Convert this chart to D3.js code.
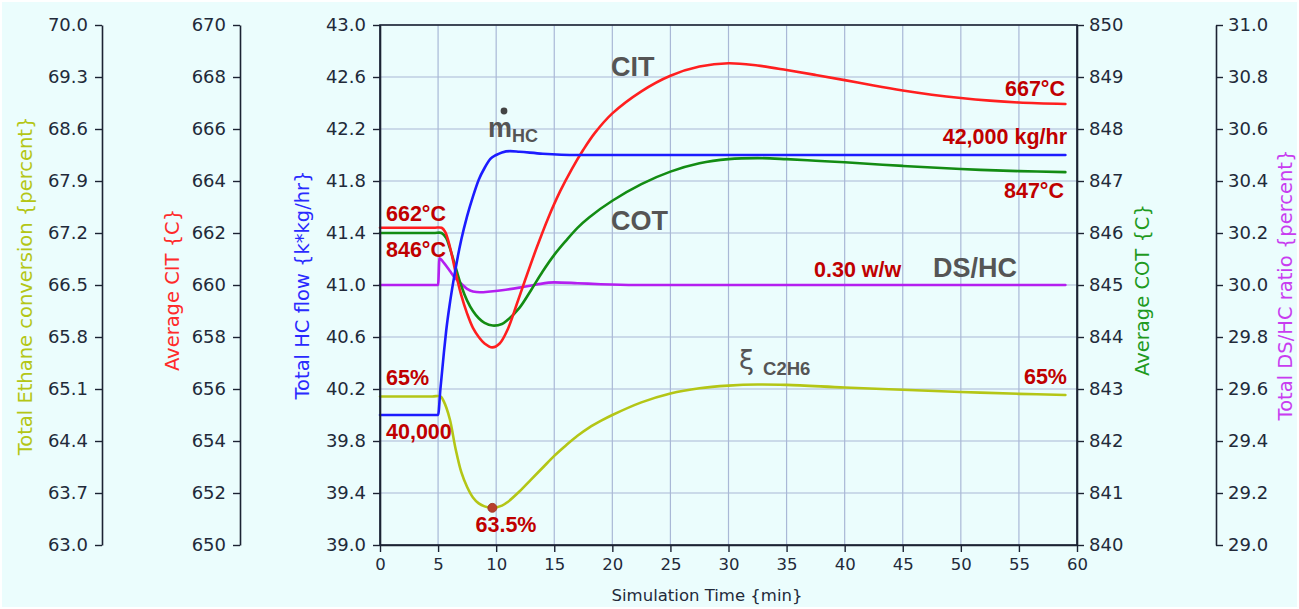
<!DOCTYPE html>
<html>
<head>
<meta charset="utf-8">
<script src="https://cdn.jsdelivr.net/npm/d3@7"></script>
<style>
  html, body { margin: 0; padding: 0; background: #ffffff; }
  svg { display: block; }
  .tick text { font-family: "DejaVu Sans", sans-serif; fill: #222a3a; }
  .tick line, .domain { stroke: #1c2333; }
</style>
</head>
<body>
<svg id="chart" width="1299" height="609"></svg>
<script>
// ---------------- DATA ----------------
const timeTicks = [0, 5, 10, 15, 20, 25, 30, 35, 40, 45, 50, 55, 60];
const hcTicks = [39.0, 39.4, 39.8, 40.2, 40.6, 41.0, 41.4, 41.8, 42.2, 42.6, 43.0];
const ethaneTicks = [63.0, 63.7, 64.4, 65.1, 65.8, 66.5, 67.2, 67.9, 68.6, 69.3, 70.0];
const citTicks = [650, 652, 654, 656, 658, 660, 662, 664, 666, 668, 670];
const cotTicks = [840, 841, 842, 843, 844, 845, 846, 847, 848, 849, 850];
const dshcTicks = [29.0, 29.2, 29.4, 29.6, 29.8, 30.0, 30.2, 30.4, 30.6, 30.8, 31.0];

// Total HC flow {k*kg/hr}
const hcTime  = [0, 5, 5.2, 5.5, 5.7, 6, 6.3, 6.7, 7, 7.5, 8, 8.5, 9, 9.5, 10, 10.5, 11.2, 12, 14, 17, 20, 59];
const hcValue = [40.0, 40.0, 40.2, 40.48, 40.65, 40.85, 41.02, 41.22, 41.35, 41.53, 41.68, 41.81, 41.9, 41.97, 42.0, 42.02, 42.03, 42.025, 42.01, 42.0, 42.0, 42.0];

// Average CIT {C}
const citTime  = [0, 4.6, 5.3, 5.6, 6, 6.5, 7, 7.5, 8, 8.5, 9, 9.67, 10.3, 11, 11.8, 12.5, 13.5, 14.5, 15.5, 16.5, 17.5, 18.5, 20, 22.5, 25, 27.5, 30, 32.5, 35, 37.5, 40, 42.5, 45, 47.5, 50, 52.5, 55, 59];
const citValue = [662.2, 662.2, 662.2, 662.05, 661.5, 660.5, 659.6, 658.9, 658.35, 658.0, 657.75, 657.6, 657.75, 658.3, 659.3, 660.2, 661.45, 662.6, 663.6, 664.45, 665.2, 665.85, 666.6, 667.45, 668.05, 668.4, 668.53, 668.44, 668.27, 668.08, 667.88, 667.67, 667.48, 667.32, 667.19, 667.09, 667.02, 666.96];

// Average COT {C}
const cotTime  = [0, 4.6, 5.3, 5.7, 6, 6.5, 7, 7.5, 8, 8.5, 9, 9.7, 10.5, 11, 12, 13, 14, 15, 16, 17, 18, 20, 22.5, 25, 27.5, 30, 32.5, 35, 37.5, 40, 45, 50, 55, 59];
const cotValue = [846.0, 846.0, 846.0, 845.9, 845.72, 845.35, 844.98, 844.7, 844.5, 844.36, 844.27, 844.22, 844.25, 844.33, 844.56, 844.9, 845.26, 845.58, 845.85, 846.1, 846.3, 846.62, 846.94, 847.18, 847.34, 847.42, 847.44, 847.42, 847.39, 847.36, 847.29, 847.23, 847.19, 847.17];

// Total DS/HC ratio {percent}
const dshcTime  = [0, 5, 5.12, 5.5, 6, 6.5, 7, 7.5, 8, 8.6, 9.5, 10.5, 12, 13.5, 15, 17, 19, 22, 59];
const dshcValue = [30.0, 30.0, 30.103, 30.085, 30.055, 30.025, 30.005, 29.985, 29.975, 29.972, 29.975, 29.98, 29.99, 30.002, 30.01, 30.007, 30.003, 30.0, 30.0];

// Total Ethane conversion {percent}
const ethTime  = [0, 4.5, 5.2, 5.5, 6, 6.5, 7, 7.5, 8, 8.5, 9, 9.67, 10.5, 11, 12, 13, 14, 15, 16, 17, 18, 19, 20, 22.5, 25, 27.5, 30, 32.5, 35, 40, 45, 50, 55, 59];
const ethValue = [65.0, 65.0, 65.0, 64.93, 64.7, 64.3, 63.98, 63.78, 63.64, 63.56, 63.52, 63.5, 63.53, 63.58, 63.72, 63.88, 64.04, 64.2, 64.34, 64.47, 64.58, 64.67, 64.75, 64.92, 65.04, 65.11, 65.145, 65.16, 65.155, 65.12, 65.09, 65.06, 65.035, 65.02];

// minimum marker on ethane conversion
const markerTime = [9.67];
const markerValue = [63.5];

// annotation texts
const redNotes = ["662°C", "846°C", "65%", "40,000", "63.5%", "0.30 w/w", "667°C", "42,000 kg/hr", "847°C", "65%"];
const grayNotes = ["CIT", "COT", "DS/HC"];

// ---------------- LAYOUT ----------------
const W = 1299, H = 609;
const x0 = 380, x1 = 1077, yTop = 25, yBot = 545;
const axEthX = 102, axCitX = 240, axHcX = 380, axCotX = 1077, axDsX = 1216;

const col = {
  bg: "#ebfdfd", grid: "#a9b8d6",
  red: "#ff1f1f", blue: "#1c1cff", green: "#138c13", mag: "#b41ff0", yel: "#b4c616",
  note: "#c00000", gray: "#555555"
};

const svg = d3.select("#chart");
svg.append("rect").attr("x", 2).attr("y", 2).attr("width", W - 4).attr("height", H - 4).attr("fill", col.bg);

// scales
const x = d3.scaleLinear().domain([0, 60]).range([x0, x1]);
const yHc = d3.scaleLinear().domain([39, 43]).range([yBot, yTop]);
const yEth = d3.scaleLinear().domain([63, 70]).range([yBot, yTop]);
const yCit = d3.scaleLinear().domain([650, 670]).range([yBot, yTop]);
const yCot = d3.scaleLinear().domain([840, 850]).range([yBot, yTop]);
const yDs = d3.scaleLinear().domain([29, 31]).range([yBot, yTop]);

// grid
const grid = svg.append("g");
grid.selectAll("line.v").data(timeTicks).join("line")
  .attr("x1", d => x(d)).attr("x2", d => x(d)).attr("y1", yTop).attr("y2", yBot)
  .attr("stroke", col.grid).attr("stroke-width", 1.2);
grid.selectAll("line.h").data(hcTicks).join("line")
  .attr("x1", x0).attr("x2", x1).attr("y1", d => yHc(d)).attr("y2", d => yHc(d))
  .attr("stroke", col.grid).attr("stroke-width", 1.2);

// lines
function drawLine(ts, vs, ys, color, curve) {
  const pts = ts.map((t, i) => [t, vs[i]]);
  const line = d3.line().x(d => x(d[0])).y(d => ys(d[1])).curve(curve);
  svg.append("path").datum(pts).attr("d", line)
    .attr("fill", "none").attr("stroke", color).attr("stroke-width", 2.6)
    .attr("stroke-linejoin", "round").attr("stroke-linecap", "round");
}
const smooth = d3.curveCatmullRom.alpha(0.5);
drawLine(ethTime, ethValue, yEth, col.yel, smooth);
drawLine(dshcTime, dshcValue, yDs, col.mag, d3.curveMonotoneX);
drawLine(cotTime, cotValue, yCot, col.green, smooth);
drawLine(citTime, citValue, yCit, col.red, smooth);
drawLine(hcTime, hcValue, yHc, col.blue, d3.curveMonotoneX);

svg.selectAll("circle.mk").data(markerTime).join("circle")
  .attr("cx", d => x(d)).attr("cy", (d, i) => yEth(markerValue[i])).attr("r", 4.5)
  .attr("fill", "#b8402e").attr("stroke", "#a03020").attr("stroke-width", 0.8);

// frame
svg.append("rect").attr("x", x0).attr("y", yTop).attr("width", x1 - x0).attr("height", yBot - yTop)
  .attr("fill", "none").attr("stroke", "#1c2333").attr("stroke-width", 1.6);

// axes
function styleAxis(g, fs) {
  g.selectAll(".tick text").style("font-size", fs + "px");
  g.selectAll(".tick line").attr("stroke", "#1c2333").attr("stroke-width", 1.4);
  g.select(".domain").attr("stroke", "#1c2333").attr("stroke-width", 1.6);
}
const fsY = 18;
let g;
g = svg.append("g").attr("transform", `translate(${axEthX},0)`)
  .call(d3.axisLeft(yEth).tickValues(ethaneTicks).tickFormat(d3.format(".1f")).tickSize(7).tickSizeOuter(0).tickPadding(7));
styleAxis(g, fsY);
g = svg.append("g").attr("transform", `translate(${axCitX},0)`)
  .call(d3.axisLeft(yCit).tickValues(citTicks).tickFormat(d3.format("d")).tickSize(7).tickSizeOuter(0).tickPadding(7));
styleAxis(g, fsY);
g = svg.append("g").attr("transform", `translate(${axHcX},0)`)
  .call(d3.axisLeft(yHc).tickValues(hcTicks).tickFormat(d3.format(".1f")).tickSize(7).tickSizeOuter(0).tickPadding(7));
styleAxis(g, fsY);
g = svg.append("g").attr("transform", `translate(${axCotX},0)`)
  .call(d3.axisRight(yCot).tickValues(cotTicks).tickFormat(d3.format("d")).tickSize(7).tickSizeOuter(0).tickPadding(5));
styleAxis(g, fsY);
g = svg.append("g").attr("transform", `translate(${axDsX},0)`)
  .call(d3.axisRight(yDs).tickValues(dshcTicks).tickFormat(d3.format(".1f")).tickSize(7).tickSizeOuter(0).tickPadding(5));
styleAxis(g, fsY);
g = svg.append("g").attr("transform", `translate(0,${yBot})`)
  .call(d3.axisBottom(x).tickValues(timeTicks).tickFormat(d3.format("d")).tickSize(7).tickSizeOuter(0).tickPadding(6));
styleAxis(g, 16.5);

// axis titles
function vLabel(xp, yp, text, color) {
  svg.append("text").attr("transform", `translate(${xp},${yp}) rotate(-90)`)
    .attr("text-anchor", "middle").attr("dominant-baseline", "central")
    .style("font-family", "DejaVu Sans, sans-serif").style("font-size", "19.5px")
    .attr("fill", color).text(text);
}
vLabel(25, 286, "Total Ethane conversion {percent}", col.yel);
vLabel(172, 290, "Average CIT {C}", "#ff2a2a");
vLabel(302, 285, "Total HC flow {k*kg/hr}", "#2a2aff");
vLabel(1142, 290, "Average COT {C}", "#1f9a1f");
vLabel(1285, 285, "Total DS/HC ratio {percent}", "#c83cf0");
svg.append("text").attr("x", 707).attr("y", 601).attr("text-anchor", "middle")
  .style("font-family", "DejaVu Sans, sans-serif").style("font-size", "16.5px")
  .attr("fill", "#222a3a").text("Simulation Time {min}");

// red annotations
const notePos = [
  [386, 221, "start"], [386, 257, "start"], [386, 385, "start"], [386, 439, "start"],
  [506, 532, "middle"], [814, 277, "start"],
  [1065, 96, "end"], [1067, 144, "end"], [1064, 198, "end"], [1067, 384, "end"]
];
redNotes.forEach((t, i) => {
  svg.append("text").attr("x", notePos[i][0]).attr("y", notePos[i][1]).attr("text-anchor", notePos[i][2])
    .style("font-family", "Liberation Sans, Arial, sans-serif").style("font-weight", "bold")
    .style("font-size", "21.5px").attr("fill", col.note).text(t);
});

// gray series labels
const grayPos = [[611, 76], [611, 230], [933, 277]];
grayNotes.forEach((t, i) => {
  svg.append("text").attr("x", grayPos[i][0]).attr("y", grayPos[i][1])
    .style("font-family", "Liberation Sans, Arial, sans-serif").style("font-weight", "bold")
    .style("font-size", "27px").attr("fill", col.gray).text(t);
});
// m-dot HC
const mt = svg.append("text").attr("x", 488).attr("y", 137)
  .style("font-family", "Liberation Sans, Arial, sans-serif").style("font-weight", "bold")
  .style("font-size", "27px").attr("fill", col.gray);
mt.append("tspan").text("m");
mt.append("tspan").attr("dy", 5).style("font-size", "18px").text("HC");
svg.append("circle").attr("cx", 504).attr("cy", 111).attr("r", 3.4).attr("fill", "#444");
// xi C2H6
const xt = svg.append("text").attr("x", 739).attr("y", 369).attr("fill", col.gray);
xt.append("tspan").style("font-family", "DejaVu Sans, sans-serif").style("font-size", "27px").text("ξ");
xt.append("tspan").attr("dx", 9).attr("dy", 6)
  .style("font-family", "Liberation Sans, Arial, sans-serif").style("font-weight", "bold").style("font-size", "18.5px").text("C2H6");
</script>
</body>
</html>
